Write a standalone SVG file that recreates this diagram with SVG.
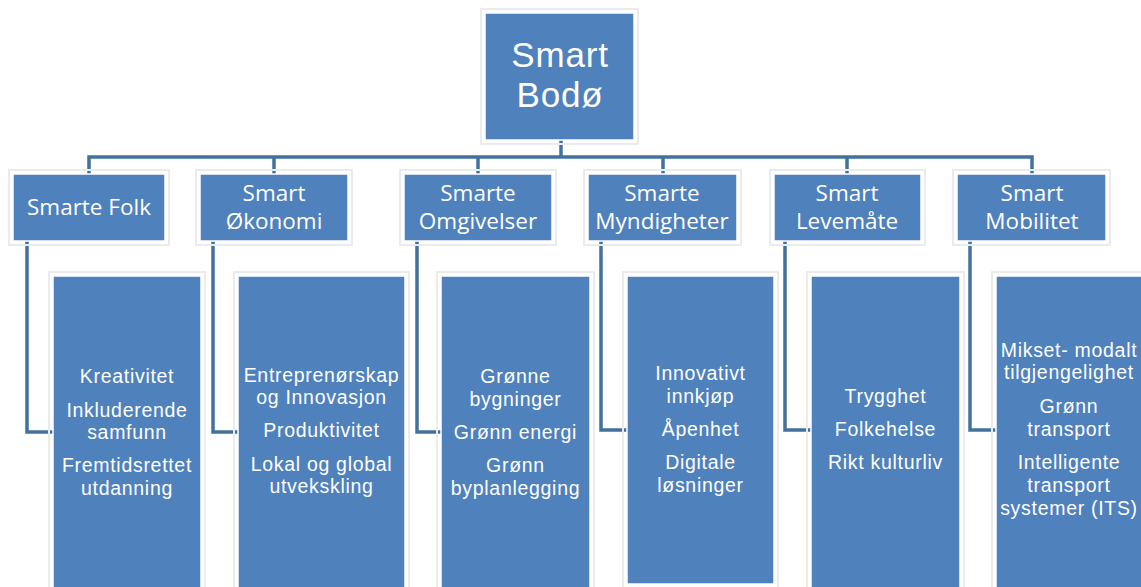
<svg xmlns="http://www.w3.org/2000/svg" width="1141" height="587" viewBox="0 0 1141 587">
<style>
.box{fill:#4F81BD;stroke:#ffffff;stroke-width:1.5}
.halo{fill:none;stroke:#ebebeb;stroke-width:2}
.t{font-family:"Open Sans","Liberation Sans",sans-serif;fill:#ffffff;text-anchor:middle}
.t0{font-family:"Liberation Sans","Open Sans",sans-serif;font-size:35px;letter-spacing:0.8px}
.t1{font-size:22.5px}
.t2{font-family:"Liberation Sans","Open Sans",sans-serif;font-size:19.5px;letter-spacing:0.7px}
.c{fill:none;stroke:#41719C;stroke-width:3.5;stroke-linejoin:miter}
</style>
<rect width="1141" height="587" fill="#ffffff"/>
<g id="connectors">
<path class="c" d="M561 140 V157 M89 174 V157 H1032 V174 M274 157 V174 M478 157 V174 M663 157 V174 M847 157 V174"/>
<path class="c" d="M27 241 V432 H53"/>
<path class="c" d="M213 241 V432 H238"/>
<path class="c" d="M417 241 V432 H441"/>
<path class="c" d="M601 241 V430 H627"/>
<path class="c" d="M785 241 V430 H811"/>
<path class="c" d="M970 241 V430 H996"/>
</g>
<g id="root">
<rect class="halo" x="481" y="9" width="157" height="135"/>
<rect class="box" x="485" y="13" width="149" height="127"/>
<text class="t t0" x="560" y="67">Smart</text>
<text class="t t0" x="560" y="107">Bodø</text>
</g>
<g id="n-folk">
<rect class="halo" x="9" y="170" width="160" height="75"/>
<rect class="box" x="13" y="174" width="152" height="67"/>
<text class="t t1" x="89" y="215">Smarte Folk</text>
</g>
<g id="n-okonomi">
<rect class="halo" x="196" y="170" width="156" height="75"/>
<rect class="box" x="200" y="174" width="148" height="67"/>
<text class="t t1" x="274" y="201">Smart</text>
<text class="t t1" x="274" y="229">Økonomi</text>
</g>
<g id="n-omgivelser">
<rect class="halo" x="400" y="170" width="156" height="75"/>
<rect class="box" x="404" y="174" width="148" height="67"/>
<text class="t t1" x="478" y="201">Smarte</text>
<text class="t t1" x="478" y="229">Omgivelser</text>
</g>
<g id="n-myndigheter">
<rect class="halo" x="584" y="170" width="157" height="75"/>
<rect class="box" x="588" y="174" width="149" height="67"/>
<text class="t t1" x="662" y="201">Smarte</text>
<text class="t t1" x="662" y="229">Myndigheter</text>
</g>
<g id="n-levemate">
<rect class="halo" x="770" y="170" width="155" height="75"/>
<rect class="box" x="774" y="174" width="147" height="67"/>
<text class="t t1" x="847" y="201">Smart</text>
<text class="t t1" x="847" y="229">Levemåte</text>
</g>
<g id="n-mobilitet">
<rect class="halo" x="953" y="170" width="157" height="75"/>
<rect class="box" x="957" y="174" width="149" height="67"/>
<text class="t t1" x="1032" y="201">Smart</text>
<text class="t t1" x="1032" y="229">Mobilitet</text>
</g>
<g id="d-folk">
<rect class="halo" x="49" y="272" width="156" height="330"/>
<rect class="box" x="53" y="276" width="148" height="322"/>
<text class="t t2" x="127" y="383">Kreativitet</text>
<text class="t t2" x="127" y="417">Inkluderende</text>
<text class="t t2" x="127" y="439">samfunn</text>
<text class="t t2" x="127" y="472">Fremtidsrettet</text>
<text class="t t2" x="127" y="495">utdanning</text>
</g>
<g id="d-okonomi">
<rect class="halo" x="234" y="272" width="175" height="330"/>
<rect class="box" x="238" y="276" width="167" height="322"/>
<text class="t t2" x="321.5" y="382">Entreprenørskap</text>
<text class="t t2" x="321.5" y="404">og Innovasjon</text>
<text class="t t2" x="321.5" y="437">Produktivitet</text>
<text class="t t2" x="321.5" y="471">Lokal og global</text>
<text class="t t2" x="321.5" y="493">utvekskling</text>
</g>
<g id="d-omgivelser">
<rect class="halo" x="437" y="272" width="157" height="330"/>
<rect class="box" x="441" y="276" width="149" height="322"/>
<text class="t t2" x="515.5" y="383">Grønne</text>
<text class="t t2" x="515.5" y="406">bygninger</text>
<text class="t t2" x="515.5" y="439">Grønn energi</text>
<text class="t t2" x="515.5" y="472">Grønn</text>
<text class="t t2" x="515.5" y="495">byplanlegging</text>
</g>
<g id="d-myndigheter">
<rect class="halo" x="623" y="272" width="155" height="316"/>
<rect class="box" x="627" y="276" width="147" height="308"/>
<text class="t t2" x="700.5" y="380">Innovativt</text>
<text class="t t2" x="700.5" y="403">innkjøp</text>
<text class="t t2" x="700.5" y="436">Åpenhet</text>
<text class="t t2" x="700.5" y="469">Digitale</text>
<text class="t t2" x="700.5" y="492">løsninger</text>
</g>
<g id="d-levemate">
<rect class="halo" x="807" y="272" width="157" height="330"/>
<rect class="box" x="811" y="276" width="149" height="322"/>
<text class="t t2" x="885.5" y="403">Trygghet</text>
<text class="t t2" x="885.5" y="436">Folkehelse</text>
<text class="t t2" x="885.5" y="469">Rikt kulturliv</text>
</g>
<g id="d-mobilitet">
<rect class="halo" x="992" y="272" width="160" height="330"/>
<rect class="box" x="996" y="276" width="152" height="322"/>
<text class="t t2" x="1069" y="357">Mikset- modalt</text>
<text class="t t2" x="1069" y="379">tilgjengelighet</text>
<text class="t t2" x="1069" y="413">Grønn</text>
<text class="t t2" x="1069" y="436">transport</text>
<text class="t t2" x="1069" y="469">Intelligente</text>
<text class="t t2" x="1069" y="492">transport</text>
<text class="t t2" x="1069" y="515">systemer (ITS)</text>
</g>
</svg>
